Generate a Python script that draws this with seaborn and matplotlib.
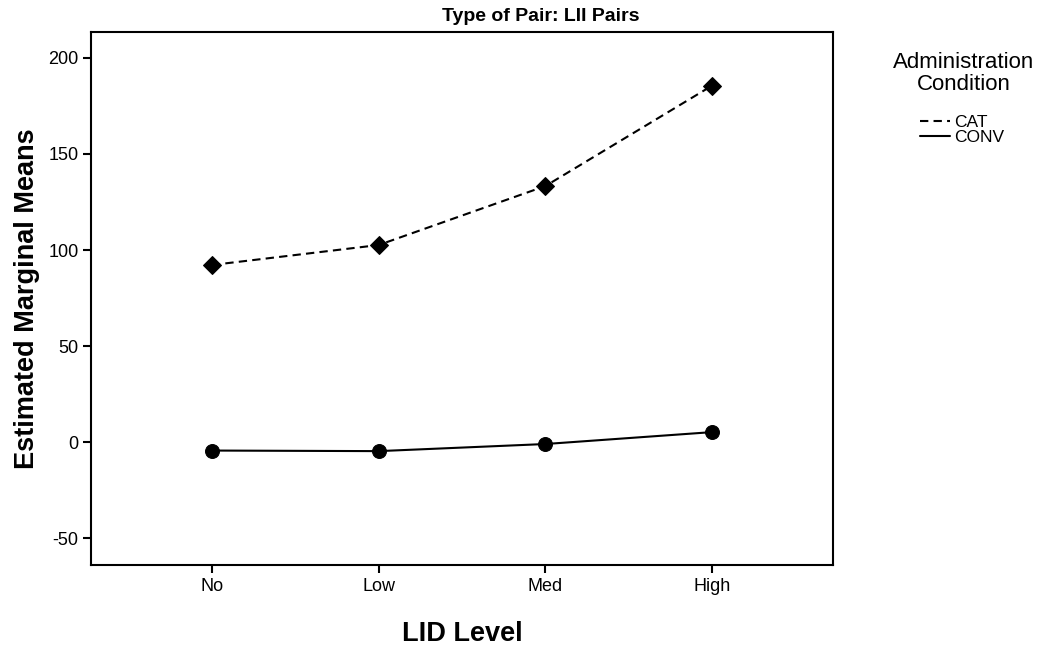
import matplotlib
matplotlib.use("Agg")
import matplotlib.pyplot as plt
from matplotlib.lines import Line2D
import seaborn as sns
import pandas as pd

# Estimated marginal means by LID level and administration condition
levels = ["No", "Low", "Med", "High"]
cat_means = [92.2, 102.6, 133.3, 185.6]
conv_means = [-4.4, -4.7, -1.0, 5.2]
conditions = ["CAT", "CONV"]
y_ticks = [-50, 0, 50, 100, 150, 200]

df = pd.DataFrame({
    "level_idx": list(range(len(levels))) * 2,
    "mean": cat_means + conv_means,
    "cond": ["CAT"] * len(levels) + ["CONV"] * len(levels),
})

sns.set_style("ticks")
plt.rcParams["font.family"] = ["Liberation Sans", "DejaVu Sans"]
plt.rcParams["axes.unicode_minus"] = False
for key in ["text.color", "axes.labelcolor", "xtick.color", "ytick.color", "axes.edgecolor"]:
    plt.rcParams[key] = "black"

DASH = (4, 2.5)
W, H = 1047, 647

fig = plt.figure(figsize=(W / 100, H / 100), dpi=100)
ax = fig.add_axes([0.0869, 0.1267, 0.7087, 0.8238])

sns.lineplot(
    data=df, x="level_idx", y="mean", style="cond",
    markers={"CAT": "D", "CONV": "o"},
    dashes={"CAT": DASH, "CONV": ""},
    color="black", linewidth=1.5, markersize=10,
    markeredgecolor="black", ax=ax, legend=False,
)
# diamonds a little smaller than circles
for ln in ax.get_lines():
    if ln.get_marker() == "D":
        ln.set_markersize(9.2)

ax.set_xlim(-0.725, 3.725)
ax.set_ylim(-64, 213.5)
ax.set_xticks(range(len(levels)))
ax.set_xticklabels(levels)
ax.set_yticks(y_ticks)
ax.tick_params(axis="both", labelsize=13, width=1.5, length=6, color="black", pad=3)
for s in ax.spines.values():
    s.set_linewidth(1.5)
    s.set_color("black")

ax.set_xlabel("LID Level", fontsize=19.5, fontweight="bold", labelpad=19)
ax.set_ylabel("Estimated Marginal Means", fontsize=19.5, fontweight="bold", labelpad=6)

fig.text(541 / W, 1 - 21 / H, "Type of Pair: LII Pairs", ha="center",
         va="baseline", fontsize=14, fontweight="bold")

# legend heading, two centred lines
fig.text(964 / W, 1 - 68 / H, "Administration", ha="center", va="baseline", fontsize=16)
fig.text(964 / W, 1 - 90 / H, "Condition", ha="center", va="baseline", fontsize=16)

handles = [
    Line2D([], [], color="black", linestyle=(0, DASH), linewidth=1.5),
    Line2D([], [], color="black", linestyle="-", linewidth=1.5),
]
leg = fig.legend(
    handles, conditions,
    loc="upper center", bbox_to_anchor=(962 / W, 1 - 106 / H), frameon=False,
    fontsize=12.5, handlelength=1.75, handletextpad=0.2,
    labelspacing=0.0, borderpad=0,
)

fig.savefig("out.png", dpi=100)
